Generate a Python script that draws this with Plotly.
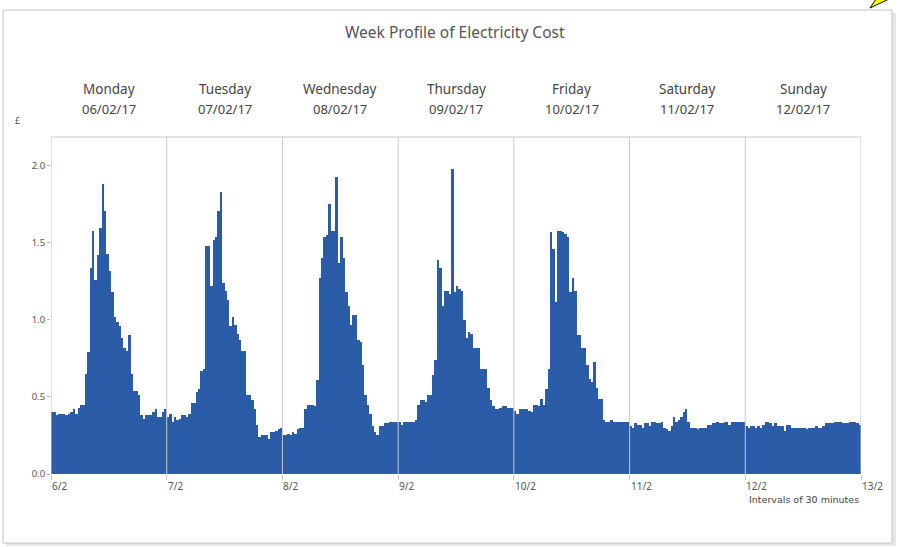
import plotly.graph_objects as go

days = ["Monday", "Tuesday", "Wednesday", "Thursday", "Friday", "Saturday", "Sunday"]
dates = ["06/02/17", "07/02/17", "08/02/17", "09/02/17", "10/02/17", "11/02/17", "12/02/17"]
x_tick_labels = ["6/2", "7/2", "8/2", "9/2", "10/2", "11/2", "12/2", "13/2"]
y_ticks = [0.0, 0.5, 1.0, 1.5, 2.0]

monday = [0.40, 0.40, 0.38, 0.39, 0.39, 0.39, 0.38, 0.39, 0.40, 0.42, 0.39, 0.43,
          0.45, 0.45, 0.65, 0.79, 1.34, 1.58, 1.26, 1.42, 1.60, 1.88, 1.71, 1.43,
          1.32, 1.18, 1.02, 0.99, 0.96, 0.88, 0.82, 0.80, 0.90, 0.65, 0.54, 0.54,
          0.51, 0.38, 0.36, 0.38, 0.38, 0.38, 0.40, 0.42, 0.37, 0.37, 0.40, 0.42]
tuesday = [0.37, 0.39, 0.34, 0.37, 0.35, 0.36, 0.38, 0.38, 0.37, 0.39, 0.46, 0.46,
           0.53, 0.55, 0.67, 0.68, 1.48, 1.48, 1.22, 1.52, 1.54, 1.71, 1.83, 1.24,
           1.19, 1.13, 0.96, 1.02, 0.97, 0.91, 0.87, 0.80, 0.80, 0.51, 0.51, 0.48,
           0.42, 0.32, 0.24, 0.25, 0.25, 0.25, 0.23, 0.27, 0.27, 0.28, 0.29, 0.30]
wednesday = [0.25, 0.25, 0.26, 0.25, 0.27, 0.26, 0.29, 0.30, 0.30, 0.42, 0.45, 0.45,
             0.45, 0.44, 0.61, 1.27, 1.40, 1.54, 1.55, 1.75, 1.58, 1.58, 1.93, 1.37,
             1.54, 1.40, 1.18, 1.09, 0.97, 1.03, 1.03, 0.87, 0.86, 0.71, 0.51, 0.45,
             0.39, 0.31, 0.27, 0.25, 0.31, 0.31, 0.33, 0.33, 0.34, 0.34, 0.34, 0.34]
thursday = [0.34, 0.32, 0.34, 0.34, 0.34, 0.34, 0.34, 0.35, 0.45, 0.48, 0.48, 0.47,
            0.51, 0.51, 0.64, 0.74, 1.39, 1.34, 1.09, 1.19, 1.19, 1.17, 1.98, 1.18,
            1.22, 1.20, 1.19, 1.00, 0.88, 0.92, 0.91, 0.82, 0.82, 0.82, 0.68, 0.68,
            0.68, 0.56, 0.48, 0.44, 0.42, 0.42, 0.43, 0.44, 0.44, 0.43, 0.43, 0.43]
friday = [0.41, 0.39, 0.42, 0.42, 0.42, 0.42, 0.41, 0.40, 0.45, 0.45, 0.44, 0.49,
          0.45, 0.55, 0.68, 1.57, 1.46, 1.12, 1.58, 1.58, 1.57, 1.56, 1.54, 1.18,
          1.27, 1.19, 0.90, 0.90, 0.82, 0.82, 0.71, 0.62, 0.60, 0.73, 0.56, 0.49,
          0.49, 0.35, 0.34, 0.34, 0.35, 0.34, 0.34, 0.34, 0.34, 0.34, 0.34, 0.34]
saturday = [0.31, 0.30, 0.33, 0.32, 0.32, 0.30, 0.33, 0.33, 0.31, 0.34, 0.34, 0.33,
            0.33, 0.34, 0.30, 0.29, 0.28, 0.31, 0.37, 0.34, 0.35, 0.37, 0.40, 0.42,
            0.34, 0.30, 0.30, 0.30, 0.29, 0.30, 0.30, 0.30, 0.32, 0.32, 0.33, 0.33,
            0.34, 0.33, 0.33, 0.34, 0.34, 0.32, 0.34, 0.34, 0.34, 0.34, 0.34, 0.34]
sunday = [0.31, 0.30, 0.31, 0.31, 0.30, 0.31, 0.30, 0.32, 0.34, 0.34, 0.33, 0.31,
          0.33, 0.31, 0.31, 0.31, 0.28, 0.32, 0.32, 0.30, 0.30, 0.30, 0.30, 0.30,
          0.30, 0.29, 0.30, 0.30, 0.30, 0.31, 0.30, 0.30, 0.31, 0.33, 0.33, 0.33,
          0.33, 0.34, 0.34, 0.34, 0.33, 0.33, 0.33, 0.34, 0.34, 0.34, 0.33, 0.32]

week = [monday, tuesday, wednesday, thursday, friday, saturday, sunday]
values = [v for day in week for v in day]
n_per_day = len(monday)
x_vals = [i + 0.5 for i in range(len(values))]
n_total = len(values)

BAR = "#2a5ca8"
FONT = "Noto Sans"

fig = go.Figure(go.Bar(x=x_vals, y=values, width=1.0, marker=dict(color=BAR, line=dict(width=0)),
                       hovertemplate="%{y:.2f}<extra></extra>"))

# plot area pixel geometry -> paper coords
L, R, T, B = 51, 861, 137, 474
W, H = R - L, B - T
def px(x):
    return (x - L) / W
def py(y):
    return (B - y) / H

shapes = []
# outer frame with shadow
shapes.append(dict(type="rect", xref="paper", yref="paper", x0=px(6), x1=px(896), y0=py(546), y1=py(13),
                   line=dict(width=0), fillcolor="#e6e6e6", layer="below"))
shapes.append(dict(type="rect", xref="paper", yref="paper", x0=px(3), x1=px(892), y0=py(543), y1=py(10),
                   line=dict(color="#c4c4c4", width=1), fillcolor="white", layer="below"))
# plot border and day separators
boundaries = [k * n_per_day for k in range(len(week) + 1)]
for b in boundaries:
    shapes.append(dict(type="line", xref="x", yref="paper", x0=b, x1=b, y0=0, y1=1,
                       line=dict(color="#c8c8c8", width=1), layer="above"))
shapes.append(dict(type="line", xref="paper", yref="paper", x0=0, x1=1, y0=1, y1=1,
                   line=dict(color="#c8c8c8", width=1), layer="above"))
# cursor artifact at top-right
shapes.append(dict(type="path", xref="paper", yref="paper",
                   path=f"M {px(870)},{py(8)} L {px(889)},{py(-1)} L {px(876)},{py(-1)} Z",
                   fillcolor="#ffff00", line=dict(color="black", width=1), layer="above"))

annotations = []
annotations.append(dict(text="Week Profile of Electricity Cost", xref="paper", yref="paper",
                        x=px(455), y=py(32), showarrow=False, xanchor="center", yanchor="middle",
                        font=dict(family=FONT, size=15.5, color="#555555")))
for i, (d, dt) in enumerate(zip(days, dates)):
    cx = boundaries[i] + n_per_day / 2
    annotations.append(dict(text=d, xref="x", yref="paper", x=cx, y=py(89), showarrow=False,
                            xanchor="center", yanchor="middle",
                            font=dict(family=FONT, size=13.5, color="#444444")))
    annotations.append(dict(text=dt, xref="x", yref="paper", x=cx, y=py(109), showarrow=False,
                            xanchor="center", yanchor="middle",
                            font=dict(family=FONT, size=13, color="#444444")))
for b, lab in zip(boundaries, x_tick_labels):
    annotations.append(dict(text=lab, xref="x", yref="paper", x=b, y=py(486), showarrow=False,
                            xanchor="left", yanchor="middle", xshift=-1,
                            font=dict(family=FONT, size=10, color="#555555")))
annotations.append(dict(text="£", xref="paper", yref="paper", x=px(17), y=py(121), showarrow=False,
                        xanchor="center", yanchor="middle", font=dict(family=FONT, size=9, color="#555555")))
annotations.append(dict(text="Intervals of 30 minutes", xref="paper", yref="paper", x=1, y=py(499),
                        showarrow=False, xanchor="right", yanchor="middle",
                        font=dict(family="DejaVu Sans", size=9.5, color="#444444")))

fig.update_layout(
    width=904, height=547,
    margin=dict(l=L, r=904 - R, t=T, b=547 - B, autoexpand=False),
    paper_bgcolor="white", plot_bgcolor="white",
    bargap=0, showlegend=False,
    shapes=shapes, annotations=annotations,
    xaxis=dict(range=[0, n_total], tickvals=boundaries, showticklabels=False, ticks="outside",
               ticklen=5, tickcolor="#c8c8c8", showgrid=False, zeroline=False, showline=False, fixedrange=True),
    yaxis=dict(range=[0, 2.188], tickvals=y_ticks, ticktext=[f"{v:.1f}" for v in y_ticks],
               ticks="outside", ticklen=3, tickcolor="#9db3d6", showgrid=False, zeroline=False,
               showline=False, tickfont=dict(family=FONT, size=9.5, color="#555555"), fixedrange=True),
)

fig.write_html("out.html", config={"displayModeBar": False},
               post_script="document.body.style.margin='0';document.body.style.padding='0';")
